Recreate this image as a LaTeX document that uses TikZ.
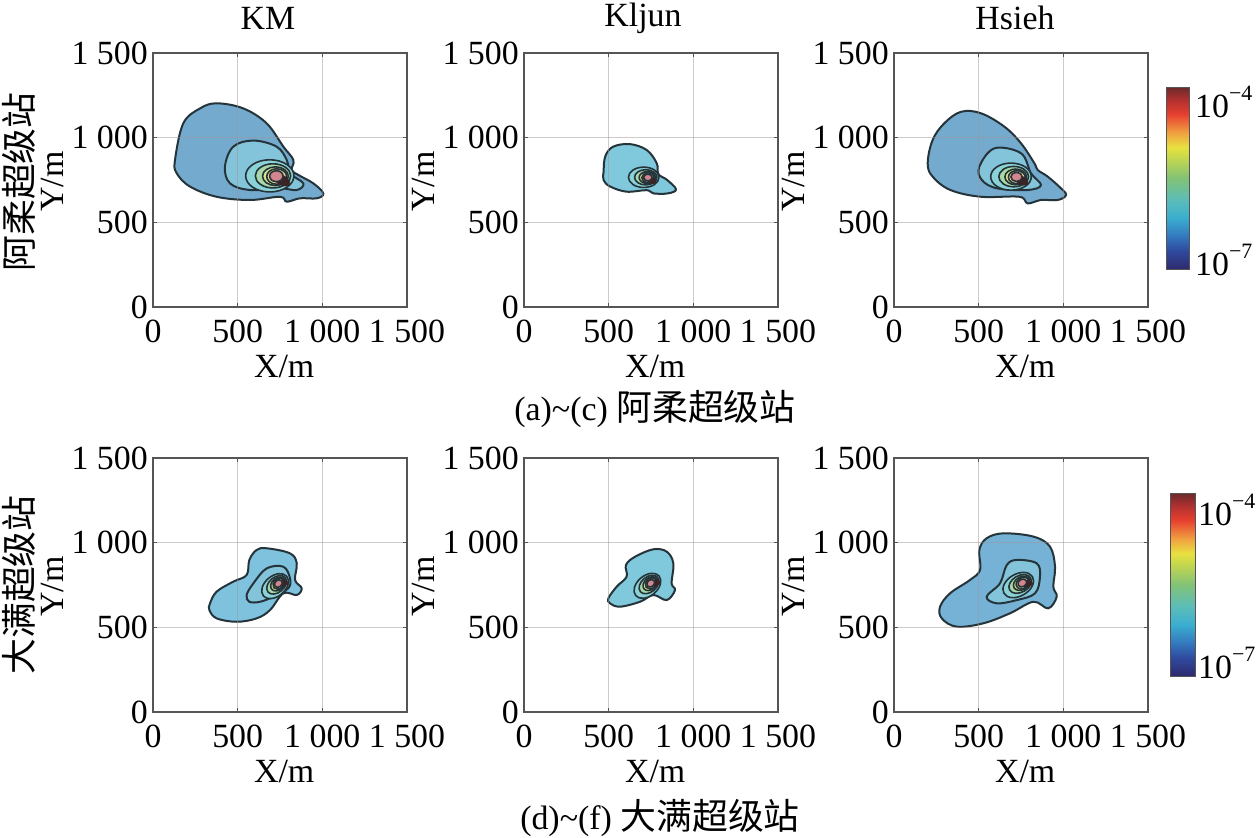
\documentclass[tikz,border=0pt]{standalone}
\usepackage{fontspec}
\setmainfont{Liberation Serif}
\newfontfamily\cjk{Noto Sans CJK SC}
\definecolor{axcol}{HTML}{555555}
\definecolor{gridcol}{HTML}{A09696}
\definecolor{contcol}{HTML}{24343A}
\definecolor{cOa}{HTML}{74AACE}
\definecolor{cOb}{HTML}{80C8DC}
\definecolor{cOc}{HTML}{7EC2DE}
\definecolor{cOd}{HTML}{76B2D6}
\definecolor{cS}{HTML}{84C4DA}
\definecolor{cC}{HTML}{8AD2D6}
\definecolor{cD}{HTML}{A8D8A8}
\definecolor{cE}{HTML}{D8E38E}
\definecolor{cF}{HTML}{F2DC8E}
\definecolor{cK}{HTML}{3A2426}
\definecolor{cP}{HTML}{D4858E}
\definecolor{jA}{HTML}{2E2A6E}
\definecolor{jB}{HTML}{2F4A9E}
\definecolor{jC}{HTML}{3478BE}
\definecolor{jD}{HTML}{3AAED0}
\definecolor{jE}{HTML}{5CBDB8}
\definecolor{jF}{HTML}{82C276}
\definecolor{jG}{HTML}{CAD94A}
\definecolor{jH}{HTML}{E8E040}
\definecolor{jI}{HTML}{F0A040}
\definecolor{jJ}{HTML}{E84030}
\definecolor{jK}{HTML}{B03030}
\definecolor{jL}{HTML}{6A2A2A}
\pgfdeclareverticalshading{jetbar}{100bp}{color(0bp)=(jA); color(25bp)=(jA); color(30bp)=(jB); color(34bp)=(jC); color(39bp)=(jD); color(44bp)=(jE); color(50bp)=(jF); color(56bp)=(jG); color(58.5bp)=(jH); color(62.5bp)=(jI); color(67.5bp)=(jJ); color(71.5bp)=(jK); color(75bp)=(jL); color(100bp)=(jL)}
\newcommand\bigf{\fontsize{34}{38}\selectfont}
\newcommand\cjkf{\cjk\fontsize{36}{40}\selectfont}
\newcommand\kk{\hspace{0.25em}}
\newcommand\tenexp[1]{10\raisebox{0.5em}{\fontsize{22}{22}\selectfont −#1}}
\tikzset{
  gridl/.style={draw=gridcol, draw opacity=0.5, line width=1.5bp},
  axbox/.style={draw=axcol, line width=2.4bp},
  tickm/.style={draw=axcol, line width=1.6bp},
  cont/.style={draw=contcol, line width=2bp, line join=round},
  icont/.style={draw=contcol, line width=1.6bp, line join=round},
  lab/.style={font=\bigf, inner sep=0pt},
  cbedge/.style={draw=axcol, line width=0.8bp},
}
\newcommand{\srccore}[4]{%
\begin{scope}[shift={(#1,#2)},scale=#3,rotate=#4]
 \filldraw[icont,fill=cC] (-55,10) ellipse [x radius=150,y radius=100];
 \filldraw[icont,fill=cD] (-35,10) ellipse [x radius=110,y radius=75];
 \filldraw[icont,fill=cE] (-20,8) ellipse [x radius=80,y radius=58];
 \filldraw[icont,fill=cF] (-12,6) ellipse [x radius=62,y radius=48];
 \filldraw[fill=cK,draw=cK,rotate=-30] (22,-4) ellipse [x radius=58,y radius=30];
 \filldraw[icont,fill=cP] (-14,8) ellipse [x radius=42,y radius=34];
\end{scope}}
\newcommand{\panel}[4]{%
\begin{scope}[shift={(#2,#3)},x=0.1693333bp,y=0.1693333bp]
 \fill[white] (0,0) rectangle (1500,1500);
 #4
 \foreach \v in {500,1000}{\draw[gridl] (\v,0)--(\v,1500); \draw[gridl] (0,\v)--(1500,\v);}
 \foreach \v in {500,1000}{%
   \draw[tickm] (\v,0)--(\v,22); \draw[tickm] (\v,1500)--(\v,1478);
   \draw[tickm] (0,\v)--(22,\v); \draw[tickm] (1500,\v)--(1478,\v);}
 \draw[axbox] (0,0) rectangle (1500,1500);
 \node[lab,yshift=-24bp] (#1x0) at (0,0) {0};
 \node[lab,yshift=-24bp] (#1x5) at (500,0) {500};
 \node[lab,yshift=-24bp] (#1x10) at (1000,0) {1\kk000};
 \node[lab,yshift=-24bp] (#1x15) at (1500,0) {1\kk500};
 \node[lab,anchor=east,xshift=-5bp] (#1y0) at (0,0) {0};
 \node[lab,anchor=east,xshift=-5bp] (#1y5) at (0,500) {500};
 \node[lab,anchor=east,xshift=-5bp] (#1y10) at (0,1000) {1\kk000};
 \node[lab,anchor=east,xshift=-5bp] (#1y15) at (0,1500) {1\kk500};
 \node[lab,yshift=-59bp] (#1xl) at (775,0) {X/m};
 \node[lab,rotate=90] (#1yl) at (-592,740) {Y/m};
\end{scope}}
\begin{document}
\begin{tikzpicture}[x=1bp,y=-1bp]
\useasboundingbox (0,0) rectangle (1258,838);
\fill[white] (0,0) rectangle (1258,838);
% ---------- top row ----------
\panel{pa}{153}{307}{%
 \filldraw[cont,fill=cOa] plot[smooth cycle,tension=0.6] coordinates {(130,868) (179,1085) (278,1173) (376,1203) (533,1173) (671,1085) (770,947) (829,868) (819,809) (858,780) (947,730) (1006,671) (967,642) (868,642) (790,622) (750,651) (573,632) (376,651) (219,711) (140,790)};
 \filldraw[cont,fill=cS] plot[smooth cycle,tension=0.6] coordinates {(425,829) (474,947) (593,983) (730,947) (790,868) (809,790) (888,730) (849,691) (750,701) (573,691) (455,730)};
 \srccore{742}{765}{0.95}{0}
}
\panel{pb}{524}{307}{%
 \filldraw[cont,fill=cOb] plot[smooth cycle,tension=0.6] coordinates {(470,800) (480,890) (527,947) (626,962) (725,927) (784,849) (794,785) (843,752) (898,695) (850,671) (764,671) (725,690) (606,681) (508,712) (470,750)};
 \srccore{740}{760}{0.6}{0}
}
\panel{pc}{894}{307}{%
 \filldraw[cont,fill=cOa] plot[smooth cycle,tension=0.6] coordinates {(199,849) (228,986) (297,1085) (396,1153) (514,1144) (652,1065) (750,967) (829,849) (849,809) (908,770) (986,701) (1016,661) (967,632) (868,632) (789,612) (740,651) (514,651) (333,691) (228,770)};
 \filldraw[cont,fill=cS] plot[smooth cycle,tension=0.6] coordinates {(504,829) (593,937) (750,908) (809,790) (868,720) (789,691) (608,701) (519,750)};
 \srccore{735}{762}{0.8}{0}
}
% ---------- bottom row ----------
\panel{pd}{153}{712}{%
 \filldraw[cont,fill=cOc] plot[smooth cycle,tension=0.6] coordinates {(337,642) (376,711) (474,770) (553,809) (569,898) (612,957) (671,967) (809,937) (849,878) (839,780) (878,731) (849,691) (770,701) (691,602) (612,553) (494,533) (376,553) (333,602)};
 \filldraw[cont,fill=cS] plot[smooth cycle,tension=0.6] coordinates {(553,691) (593,760) (671,848) (770,858) (809,790) (799,731) (711,681) (632,651) (569,651)};
 \srccore{750}{760}{0.6}{40}
}
\panel{pe}{524}{712}{%
 \filldraw[cont,fill=cOb] plot[smooth cycle,tension=0.6] coordinates {(498,671) (547,740) (606,799) (602,868) (656,917) (764,961) (843,947) (882,878) (872,760) (892,720) (843,661) (764,691) (685,651) (567,622) (508,642)};
 \srccore{758}{762}{0.6}{40}
}
\panel{pf}{894}{712}{%
 \filldraw[cont,fill=cOd] plot[smooth cycle,tension=0.6] coordinates {(272,622) (331,701) (449,780) (508,839) (504,957) (547,1026) (646,1055) (823,1036) (921,977) (951,858) (941,740) (961,681) (911,612) (823,651) (685,583) (528,524) (370,504) (282,553)};
 \filldraw[cont,fill=cS] plot[smooth cycle,tension=0.6] coordinates {(547,681) (626,760) (666,868) (725,898) (843,878) (862,799) (833,701) (725,661) (607,642)};
 \srccore{768}{762}{0.65}{30}
}
% ---------- titles ----------
\node[lab] (tKM) at (268,18) {KM};
\node[lab] (tKl) at (643,18) {Kljun};
\node[lab] (tHs) at (1015,18) {Hsieh};
% ---------- row labels ----------
\node[inner sep=0pt,rotate=90] (rowA) at (19,182) {\cjkf 阿柔超级站};
\node[inner sep=0pt,rotate=90] (rowB) at (19,585) {\cjkf 大满超级站};
% ---------- captions ----------
\node[inner sep=0pt] (capA) at (655,409) {\bigf (a)\textasciitilde(c)\kk{\cjkf 阿柔超级站}};
\node[inner sep=0pt] (capB) at (660,818) {\bigf (d)\textasciitilde(f)\kk{\cjkf 大满超级站}};
% ---------- colour bars ----------
\shade[shading=jetbar] (1166,87) rectangle (1189,269);
\draw[cbedge] (1166,87) rectangle (1189,269);
\node[lab,anchor=west] (cbAhi) at (1195,102) {\tenexp{4}};
\node[lab,anchor=west] (cbAlo) at (1195,260) {\tenexp{7}};
\shade[shading=jetbar] (1170,493) rectangle (1195,676);
\draw[cbedge] (1170,493) rectangle (1195,676);
\node[lab,anchor=west] (cbBhi) at (1198,510) {\tenexp{4}};
\node[lab,anchor=west] (cbBlo) at (1198,663) {\tenexp{7}};
\end{tikzpicture}
\end{document}
